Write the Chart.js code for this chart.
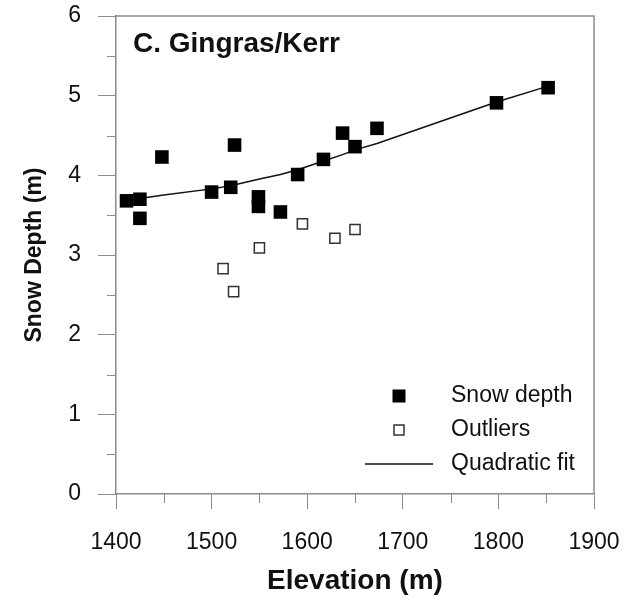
<!DOCTYPE html>
<html>
<head>
<meta charset="utf-8">
<script src="https://cdn.jsdelivr.net/npm/chart.js@4.4.1/dist/chart.umd.min.js"></script>
<style>
  html, body { margin: 0; padding: 0; background: #fff; }
</style>
</head>
<body>
<canvas id="chart" width="641" height="601"></canvas>
<script>
// Snow depth survey, C. Gingras/Kerr site
const elevation = [1411, 1425, 1425, 1448, 1500, 1520, 1524, 1549, 1549, 1572, 1590, 1617, 1637, 1650, 1673, 1798, 1852];
const snowDepth = [3.68, 3.70, 3.46, 4.23, 3.79, 3.85, 4.38, 3.73, 3.61, 3.54, 4.01, 4.20, 4.53, 4.36, 4.59, 4.91, 5.10];

const outlierElevation = [1512, 1523, 1550, 1595, 1629, 1650];
const outlierDepth = [2.83, 2.54, 3.09, 3.39, 3.21, 3.32];

const fitElevation = [1411, 1425, 1448, 1500, 1520, 1549, 1572, 1590, 1617, 1637, 1650, 1673, 1798, 1852];
const fitDepth = [3.68, 3.71, 3.75, 3.83, 3.87, 3.95, 4.01, 4.07, 4.18, 4.26, 4.32, 4.40, 4.92, 5.12];

const xMinorTicks = [1450, 1550, 1650, 1750, 1850];
const yMinorTicks = [0.5, 1.5, 2.5, 3.5, 4.5, 5.5];

const siteName = 'C. Gingras/Kerr';
const legendLabels = ['Snow depth', 'Outliers', 'Quadratic fit'];

const axisGrey = '#8c8c8c';
const fontFamily = "'Liberation Sans', Arial, sans-serif";

Chart.defaults.font.family = fontFamily;
Chart.defaults.color = '#111';

function toPoints(xs, ys) {
    return xs.map((v, i) => ({ x: v, y: ys[i] }));
}

// frame, minor ticks, site name and the legend box inside the plot
const extras = {
    id: 'extras',
    afterDraw(chart) {
        const { ctx, chartArea: { left, right, top, bottom }, scales: { x, y } } = chart;
        ctx.save();

        ctx.strokeStyle = axisGrey;
        ctx.lineWidth = 1.5;
        ctx.beginPath();
        ctx.moveTo(left, top);
        ctx.lineTo(right, top);
        ctx.lineTo(right, bottom);
        ctx.stroke();

        ctx.lineWidth = 1;
        ctx.beginPath();
        xMinorTicks.forEach(v => {
            const px = Math.round(x.getPixelForValue(v)) + 0.5;
            ctx.moveTo(px, bottom);
            ctx.lineTo(px, bottom + 9);
        });
        yMinorTicks.forEach(v => {
            const py = Math.round(y.getPixelForValue(v)) + 0.5;
            ctx.moveTo(left, py);
            ctx.lineTo(left - 9, py);
        });
        ctx.stroke();

        ctx.fillStyle = '#111';
        ctx.font = 'bold 28px ' + fontFamily;
        ctx.textBaseline = 'alphabetic';
        ctx.textAlign = 'left';
        ctx.fillText(siteName, left + 17, top + 36);

        // legend
        const mx = left + 283;
        const tx = left + 335;
        const rows = [top + 380, top + 414, top + 448];
        ctx.font = '23px ' + fontFamily;
        ctx.textBaseline = 'middle';

        ctx.fillStyle = '#000';
        ctx.fillRect(mx - 6.5, rows[0] - 6.5, 13, 13);

        ctx.strokeStyle = '#333';
        ctx.lineWidth = 1.5;
        ctx.strokeRect(mx - 5, rows[1] - 5, 10, 10);

        ctx.strokeStyle = '#111';
        ctx.lineWidth = 1.5;
        ctx.beginPath();
        ctx.moveTo(left + 249, rows[2]);
        ctx.lineTo(left + 317, rows[2]);
        ctx.stroke();

        ctx.fillStyle = '#111';
        legendLabels.forEach((t, i) => ctx.fillText(t, tx, rows[i]));

        ctx.restore();
    }
};

const data = {
    datasets: [
        {
            label: legendLabels[0],
            data: toPoints(elevation, snowDepth),
            pointStyle: 'rect',
            pointRadius: 9.6,
            backgroundColor: '#000',
            borderColor: '#000',
            borderWidth: 0,
            order: 1,
        },
        {
            label: legendLabels[1],
            data: toPoints(outlierElevation, outlierDepth),
            pointStyle: 'rect',
            pointRadius: 7.2,
            backgroundColor: '#fff',
            borderColor: '#333',
            borderWidth: 1.5,
            order: 2,
        },
        {
            label: legendLabels[2],
            data: toPoints(fitElevation, fitDepth),
            showLine: true,
            pointRadius: 0,
            borderColor: '#111',
            borderWidth: 1.5,
            order: 3,
        },
    ],
};

const config = {
    type: 'scatter',
    data: data,
    options: {
        responsive: false,
        animation: false,
        layout: {
            padding: { top: 16, right: 47, left: 0, bottom: 0 }
        },
        plugins: {
            legend: { display: false },
            tooltip: { enabled: false },
        },
        scales: {
            x: {
                type: 'linear',
                position: 'bottom',
                min: 1400,
                max: 1900,
                afterFit: s => {
                    s.height = 107;
                    s.paddingLeft = 0;
                    s.paddingRight = 0;
                },
                ticks: {
                    stepSize: 100,
                    padding: 20,
                    font: { size: 23 },
                    color: '#111',
                    callback: v => String(v),
                },
                grid: {
                    drawOnChartArea: false,
                    drawTicks: true,
                    tickLength: 15,
                    tickColor: axisGrey,
                    tickWidth: 1,
                },
                border: { color: axisGrey, width: 1.5 },
                title: {
                    display: true,
                    text: 'Elevation (m)',
                    font: { size: 28, weight: 'bold' },
                    color: '#111',
                    padding: { top: 0, bottom: 3 },
                },
            },
            y: {
                type: 'linear',
                position: 'left',
                min: 0,
                max: 6,
                afterFit: s => {
                    s.width = 116;
                    s.paddingTop = 0;
                    s.paddingBottom = 0;
                },
                ticks: {
                    stepSize: 1,
                    padding: 17,
                    font: { size: 23 },
                    color: '#111',
                },
                grid: {
                    drawOnChartArea: false,
                    drawTicks: true,
                    tickLength: 18,
                    tickColor: axisGrey,
                    tickWidth: 1,
                },
                border: { color: axisGrey, width: 1.5 },
                title: {
                    display: true,
                    text: 'Snow Depth (m)',
                    font: { size: 23, weight: 'bold' },
                    color: '#111',
                    padding: { top: 21, bottom: 0 },
                },
            },
        },
    },
    plugins: [extras],
};

new Chart(document.getElementById('chart'), config);
</script>
</body>
</html>
